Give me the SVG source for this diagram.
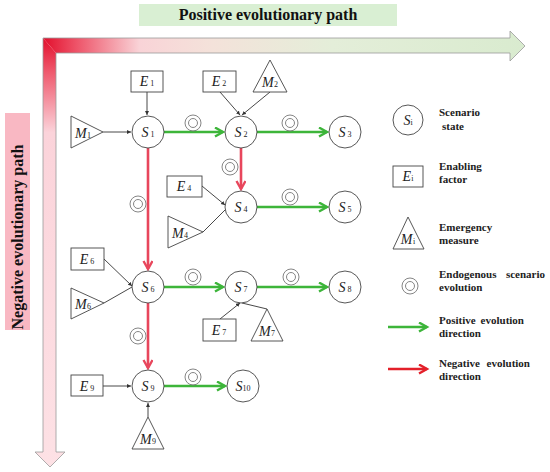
<svg xmlns="http://www.w3.org/2000/svg" width="550" height="472" viewBox="0 0 550 472">
<style>
.nd{fill:#fff;stroke:#444;stroke-width:0.9}
.lb{font-family:"Liberation Serif",serif;font-size:14px;fill:#222}
.it{font-style:italic}
.sb{font-size:8px;font-style:normal}
.thin{stroke:#333;stroke-width:0.9;fill:none}
.gr{stroke:#3db53a;stroke-width:2.6;fill:none}
.rd{stroke:#e8465c;stroke-width:2.6;fill:none}
.en{fill:none;stroke:#777;stroke-width:0.9}
.lg{font-family:"Liberation Serif",serif;font-size:11px;font-weight:bold;fill:#222}
.ttl{font-family:"Liberation Serif",serif;font-size:16px;font-weight:bold;fill:#111}
</style>
<defs>
<linearGradient id="gh" gradientUnits="userSpaceOnUse" x1="43" y1="0" x2="525" y2="0">
<stop offset="0" stop-color="#e20f2c"/>
<stop offset="0.07" stop-color="#ee5469"/>
<stop offset="0.2" stop-color="#f9d3d7"/>
<stop offset="0.35" stop-color="#f4e2da"/>
<stop offset="0.6" stop-color="#e4eed9"/>
<stop offset="1" stop-color="#d9ebcf"/>
</linearGradient>
<linearGradient id="gv" gradientUnits="userSpaceOnUse" x1="0" y1="38" x2="0" y2="467">
<stop offset="0" stop-color="#e20f2c"/>
<stop offset="0.08" stop-color="#ef5a6e"/>
<stop offset="0.22" stop-color="#fbd3da"/>
<stop offset="1" stop-color="#fde1e5"/>
</linearGradient>
<marker id="ag" markerUnits="userSpaceOnUse" markerWidth="12" markerHeight="12" refX="9" refY="5" orient="auto">
<path d="M1,0.5 L9,5 L1,9.5" fill="none" stroke="#3db53a" stroke-width="2.4"/>
</marker>
<marker id="ar" markerUnits="userSpaceOnUse" markerWidth="12" markerHeight="12" refX="9" refY="5" orient="auto">
<path d="M1,0.5 L9,5 L1,9.5" fill="none" stroke="#e8465c" stroke-width="2.4"/>
</marker>
<marker id="arl" markerUnits="userSpaceOnUse" markerWidth="12" markerHeight="12" refX="9" refY="5" orient="auto">
<path d="M1,0.5 L9,5 L1,9.5" fill="none" stroke="#e3202a" stroke-width="2.4"/>
</marker>
<marker id="ab" markerUnits="userSpaceOnUse" markerWidth="5" markerHeight="5" refX="4" refY="2" orient="auto">
<path d="M0,0 L4,2 L0,4 Z" fill="#333"/>
</marker>
</defs>

<!-- titles -->
<rect x="139" y="4" width="258" height="22" fill="#d9efd3"/>
<text class="ttl" x="268" y="20" text-anchor="middle">Positive evolutionary path</text>
<rect x="5" y="113" width="25" height="217" fill="#f9b8c3"/>
<text class="ttl" transform="translate(23,237) rotate(-90)" text-anchor="middle">Negative evolutionary path</text>

<!-- big L arrow -->
<g id="axes">
<polygon points="43,38 510,38 510,31 525,46 510,61 510,53 56,53" fill="url(#gh)"/>
<polygon points="43,38 56,53 56,452 65,452 50,467 35,452 43,452" fill="url(#gv)"/>
<path d="M43,38 L510,38 L510,31 L525,46 L510,61 L510,53 L56,53 L56,452 L65,452 L50,467 L35,452 L43,452 Z" fill="none" stroke="#9a9a9a" stroke-width="0.8"/>
</g>

<!-- connectors -->
<g id="connectors">
<line class="thin" x1="103" y1="132" x2="131" y2="132" marker-end="url(#ab)"/>
<line class="thin" x1="147" y1="92" x2="147" y2="115" marker-end="url(#ab)"/>
<line class="thin" x1="220" y1="92" x2="240" y2="115" marker-end="url(#ab)"/>
<line class="thin" x1="270" y1="92" x2="242" y2="115" marker-end="url(#ab)"/>
<line class="thin" x1="202" y1="186" x2="225" y2="205" marker-end="url(#ab)"/>
<line class="thin" x1="203" y1="232" x2="226" y2="209"/>
<line class="thin" x1="104" y1="259" x2="132" y2="286" marker-end="url(#ab)"/>
<line class="thin" x1="104" y1="303" x2="132" y2="287"/>
<line class="thin" x1="220" y1="319" x2="240" y2="303" marker-end="url(#ab)"/>
<line class="thin" x1="267" y1="309" x2="242" y2="303"/>
<line class="thin" x1="103" y1="386" x2="131" y2="386" marker-end="url(#ab)"/>
<line class="thin" x1="148" y1="417" x2="148" y2="403" marker-end="url(#ab)"/>

<line class="gr" x1="164" y1="132" x2="223" y2="132" marker-end="url(#ag)"/>
<line class="gr" x1="257" y1="132" x2="327" y2="132" marker-end="url(#ag)"/>
<line class="gr" x1="257" y1="207" x2="327" y2="207" marker-end="url(#ag)"/>
<line class="gr" x1="164" y1="287" x2="223" y2="287" marker-end="url(#ag)"/>
<line class="gr" x1="257" y1="287" x2="327" y2="287" marker-end="url(#ag)"/>
<line class="gr" x1="164" y1="386" x2="225" y2="386" marker-end="url(#ag)"/>

<line class="rd" x1="148" y1="148" x2="148" y2="269" marker-end="url(#ar)"/>
<line class="rd" x1="241" y1="148" x2="241" y2="189" marker-end="url(#ar)"/>
<line class="rd" x1="148" y1="303" x2="148" y2="368" marker-end="url(#ar)"/>
</g>

<!-- endogenous evolution markers -->
<g id="endogenous">
<circle class="en" cx="193" cy="123" r="8"/><circle class="en" cx="193" cy="123" r="4.5"/>
<circle class="en" cx="290" cy="123" r="8"/><circle class="en" cx="290" cy="123" r="4.5"/>
<circle class="en" cx="230" cy="167" r="8"/><circle class="en" cx="230" cy="167" r="4.5"/>
<circle class="en" cx="290" cy="197" r="8"/><circle class="en" cx="290" cy="197" r="4.5"/>
<circle class="en" cx="138" cy="204" r="8"/><circle class="en" cx="138" cy="204" r="4.5"/>
<circle class="en" cx="193" cy="277" r="8"/><circle class="en" cx="193" cy="277" r="4.5"/>
<circle class="en" cx="291" cy="277" r="8"/><circle class="en" cx="291" cy="277" r="4.5"/>
<circle class="en" cx="138" cy="336" r="8"/><circle class="en" cx="138" cy="336" r="4.5"/>
<circle class="en" cx="193" cy="377" r="8"/><circle class="en" cx="193" cy="377" r="4.5"/>
</g>

<!-- scenario nodes -->
<g id="S1"><circle class="nd" cx="148" cy="132" r="16"/><text class="lb" x="148" y="137" text-anchor="middle"><tspan class="it">S</tspan><tspan class="sb"> 1</tspan></text></g>
<g id="S2"><circle class="nd" cx="241" cy="132" r="16"/><text class="lb" x="241" y="137" text-anchor="middle"><tspan class="it">S</tspan><tspan class="sb"> 2</tspan></text></g>
<g id="S3"><circle class="nd" cx="345" cy="132" r="16"/><text class="lb" x="345" y="137" text-anchor="middle"><tspan class="it">S</tspan><tspan class="sb"> 3</tspan></text></g>
<g id="S4"><circle class="nd" cx="241" cy="207" r="16"/><text class="lb" x="241" y="212" text-anchor="middle"><tspan class="it">S</tspan><tspan class="sb"> 4</tspan></text></g>
<g id="S5"><circle class="nd" cx="345" cy="207" r="16"/><text class="lb" x="345" y="212" text-anchor="middle"><tspan class="it">S</tspan><tspan class="sb"> 5</tspan></text></g>
<g id="S6"><circle class="nd" cx="148" cy="287" r="16"/><text class="lb" x="148" y="292" text-anchor="middle"><tspan class="it">S</tspan><tspan class="sb"> 6</tspan></text></g>
<g id="S7"><circle class="nd" cx="241" cy="287" r="16"/><text class="lb" x="241" y="292" text-anchor="middle"><tspan class="it">S</tspan><tspan class="sb"> 7</tspan></text></g>
<g id="S8"><circle class="nd" cx="345" cy="287" r="16"/><text class="lb" x="345" y="292" text-anchor="middle"><tspan class="it">S</tspan><tspan class="sb"> 8</tspan></text></g>
<g id="S9"><circle class="nd" cx="148" cy="386" r="16"/><text class="lb" x="148" y="391" text-anchor="middle"><tspan class="it">S</tspan><tspan class="sb"> 9</tspan></text></g>
<g id="S10"><circle class="nd" cx="243" cy="386" r="16"/><text class="lb" x="243" y="391" text-anchor="middle"><tspan class="it">S</tspan><tspan class="sb">10</tspan></text></g>

<!-- enabling factors -->
<g id="E1"><rect class="nd" x="131" y="71" width="32" height="21"/><text class="lb" x="147" y="86" text-anchor="middle"><tspan class="it">E</tspan><tspan class="sb"> 1</tspan></text></g>
<g id="E2"><rect class="nd" x="203" y="71" width="33" height="21"/><text class="lb" x="219" y="86" text-anchor="middle"><tspan class="it">E</tspan><tspan class="sb"> 2</tspan></text></g>
<g id="E4"><rect class="nd" x="167" y="176" width="35" height="21"/><text class="lb" x="184" y="191" text-anchor="middle"><tspan class="it">E</tspan><tspan class="sb"> 4</tspan></text></g>
<g id="E6"><rect class="nd" x="71" y="248" width="33" height="22"/><text class="lb" x="87" y="264" text-anchor="middle"><tspan class="it">E</tspan><tspan class="sb"> 6</tspan></text></g>
<g id="E7"><rect class="nd" x="203" y="319" width="33" height="22"/><text class="lb" x="219" y="335" text-anchor="middle"><tspan class="it">E</tspan><tspan class="sb"> 7</tspan></text></g>
<g id="E9"><rect class="nd" x="71" y="375" width="32" height="21"/><text class="lb" x="87" y="391" text-anchor="middle"><tspan class="it">E</tspan><tspan class="sb"> 9</tspan></text></g>

<!-- emergency measures -->
<g id="M1"><polygon class="nd" points="71,116 71,148 103,132"/><text class="lb" x="83" y="138" text-anchor="middle"><tspan class="it">M</tspan><tspan class="sb" dx="0.5">1</tspan></text></g>
<g id="M2"><polygon class="nd" points="270,60 253,92 287,92"/><text class="lb" x="270" y="87" text-anchor="middle"><tspan class="it">M</tspan><tspan class="sb" dx="0.5">2</tspan></text></g>
<g id="M4"><polygon class="nd" points="168,216 168,248 203,232"/><text class="lb" x="180" y="238" text-anchor="middle"><tspan class="it">M</tspan><tspan class="sb" dx="0.5">4</tspan></text></g>
<g id="M6"><polygon class="nd" points="71,288 71,319 104,303"/><text class="lb" x="83" y="309" text-anchor="middle"><tspan class="it">M</tspan><tspan class="sb" dx="0.5">6</tspan></text></g>
<g id="M7"><polygon class="nd" points="267,309 251,341 283,341"/><text class="lb" x="267" y="336" text-anchor="middle"><tspan class="it">M</tspan><tspan class="sb" dx="0.5">7</tspan></text></g>
<g id="M9"><polygon class="nd" points="148,417 132,449 164,449"/><text class="lb" x="148" y="444" text-anchor="middle"><tspan class="it">M</tspan><tspan class="sb" dx="0.5">9</tspan></text></g>

<!-- legend -->
<g id="legend">
<circle class="nd" cx="408" cy="120" r="15"/>
<text class="lb" x="408" y="125" text-anchor="middle"><tspan class="it">S</tspan><tspan class="sb">i</tspan></text>
<text class="lg" x="439" y="116">Scenario</text>
<text class="lg" x="442" y="130">state</text>

<rect class="nd" x="393" y="166" width="30" height="21"/>
<text class="lb" x="408" y="181" text-anchor="middle"><tspan class="it">E</tspan><tspan class="sb it">i</tspan></text>
<text class="lg" x="439" y="170">Enabling</text>
<text class="lg" x="439" y="183">factor</text>

<polygon class="nd" points="408,217 393,249 424,249"/>
<text class="lb" x="408" y="244" text-anchor="middle"><tspan class="it">M</tspan><tspan class="sb it" dx="0.5">i</tspan></text>
<text class="lg" x="439" y="231">Emergency</text>
<text class="lg" x="439" y="244">measure</text>

<circle class="en" cx="410" cy="286" r="8"/><circle class="en" cx="410" cy="286" r="4.5"/>
<text class="lg" x="439" y="278">Endogenous</text>
<text class="lg" x="545" y="278" text-anchor="end">scenario</text>
<text class="lg" x="439" y="291">evolution</text>

<line class="gr" x1="388" y1="327" x2="427" y2="327" marker-end="url(#ag)"/>
<text class="lg" x="439" y="324">Positive</text>
<text class="lg" x="524" y="324" text-anchor="end">evolution</text>
<text class="lg" x="439" y="337">direction</text>

<line x1="388" y1="369" x2="427" y2="369" stroke="#e3202a" stroke-width="2.6" marker-end="url(#arl)"/>
<text class="lg" x="439" y="367">Negative</text>
<text class="lg" x="530" y="367" text-anchor="end">evolution</text>
<text class="lg" x="439" y="380">direction</text>
</g>
</svg>
